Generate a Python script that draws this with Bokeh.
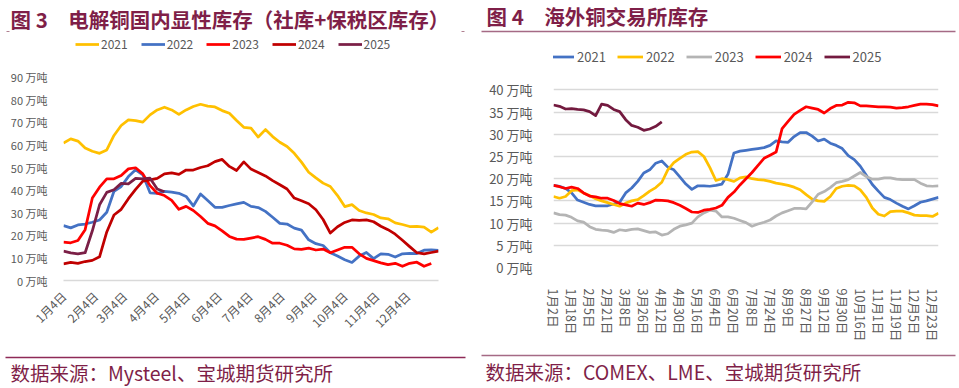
import math
from bokeh.plotting import figure
from bokeh.models import Range1d, FixedTicker, Legend, LegendItem, Label, ColumnDataSource
from bokeh.layouts import row, column
from bokeh.embed import file_html
from bokeh.resources import INLINE

FONT = "Noto Sans CJK SC"
MAROON = "#7F1F48"
GRAY_TXT = "#595959"

# ---------------- Left chart data (weekly, 电解铜国内显性库存, 万吨) ----------------
left_years = ["2021", "2022", "2023", "2024", "2025"]
left_colors = ["#FFC000", "#4472C4", "#FF0000", "#C00000", "#7B1F46"]
left_tick_days = [4, 35, 63, 94, 124, 155, 185, 216, 247, 277, 308, 338]
left_tick_labels = ["1月4日", "2月4日", "3月4日", "4月4日", "5月4日", "6月4日",
                    "7月4日", "8月4日", "9月4日", "10月4日", "11月4日", "12月4日"]
left_y_ticks = [0, 10, 20, 30, 40, 50, 60, 70, 80, 90]

left_2021 = [60.8, 62.7, 61.7, 58.7, 57.2, 56.3, 57.8, 64.2, 68.6, 71.1, 70.8, 70.1, 73.3,
             75.5, 76.7, 75.5, 73.5, 75.5, 77.0, 78.0, 77.2, 76.8, 75.2, 74.0, 70.8, 67.8,
             67.4, 63.5, 66.8, 63.7, 61.2, 59.3, 56.3, 52.4, 47.9, 45.4, 43.1, 41.6, 37.6,
             32.7, 33.6, 31.0, 29.9, 29.2, 27.7, 27.3, 25.5, 24.8, 23.9, 24.0, 23.6, 21.4, 23.4]
left_2022 = [24.3, 23.3, 24.6, 25.0, 25.8, 26.8, 30.2, 39.5, 41.6, 46.0, 49.0, 46.8, 38.8,
             38.6, 39.4, 39.1, 38.6, 37.2, 33.0, 38.3, 35.4, 32.4, 32.4, 33.2, 33.9, 34.6,
             32.8, 32.3, 30.6, 28.0, 25.3, 25.0, 23.2, 22.3, 18.0, 16.3, 15.5, 12.3, 10.8,
             9.2, 8.0, 10.8, 12.4, 9.7, 11.8, 11.6, 10.4, 11.8, 12.0, 11.9, 13.4, 13.6, 13.3]
left_2023 = [17.0, 16.7, 17.7, 22.5, 36.5, 41.3, 45.0, 45.0, 46.5, 49.4, 49.9, 47.2, 42.0,
             38.6, 37.6, 35.5, 31.5, 32.8, 31.0, 28.3, 25.3, 24.2, 22.0, 19.5, 18.3, 18.2,
             18.8, 19.4, 18.2, 16.5, 16.5, 15.6, 14.0, 13.8, 14.3, 13.5, 13.9, 12.3, 13.5,
             14.7, 14.7, 11.8, 9.8, 8.8, 7.8, 7.0, 7.6, 6.3, 7.6, 8.1, 6.3, 7.5]
left_2024 = [7.4, 8.0, 7.6, 8.4, 8.9, 10.5, 21.5, 29.0, 31.5, 36.2, 40.3, 44.0, 44.5, 45.2,
             47.2, 47.6, 47.0, 48.9, 48.9, 50.0, 50.8, 52.6, 53.6, 50.5, 48.7, 52.5, 49.3,
             47.8, 46.3, 44.2, 42.4, 40.5, 36.5, 35.3, 34.0, 31.3, 27.0, 21.0, 23.8, 25.7,
             26.8, 26.6, 26.8, 26.0, 24.0, 22.5, 20.5, 17.8, 15.0, 12.3, 11.8, 12.4, 13.0]
left_2025 = [13.0, 12.2, 11.8, 12.3, 22.0, 33.5, 39.0, 40.2, 43.0, 42.8, 45.2, 45.0, 45.3, 40.5, 39.3]
left_series = [left_2021, left_2022, left_2023, left_2024, left_2025]

# ---------------- Right chart data (海外铜交易所库存, 万吨, every 4 trading days) ----------------
right_years = ["2021", "2022", "2023", "2024", "2025"]
right_colors = ["#4472C4", "#FFC000", "#B4B4B4", "#FF0000", "#731A3F"]
right_tick_idx = [0, 12, 24, 36, 48, 60, 72, 84, 96, 108, 120, 132, 144, 156, 168, 180,
                  192, 204, 216, 228, 240, 252]
right_tick_labels = ["1月2日", "1月18日", "2月5日", "2月21日", "3月8日", "3月26日", "4月12日",
                     "4月30日", "5月16日", "6月4日", "6月20日", "7月8日", "7月24日", "8月9日",
                     "8月27日", "9月12日", "9月30日", "10月16日", "11月1日", "11月19日",
                     "12月5日", "12月23日"]
right_y_ticks = [0, 5, 10, 15, 20, 25, 30, 35, 40]

right_2021 = [18.5, 18.3, 17.8, 16.8, 15.2, 14.7, 14.2, 13.9, 13.9, 13.9, 14.3, 14.7, 16.8,
              17.9, 19.4, 21.3, 22.0, 23.5, 24.0, 22.6, 22.0, 20.4, 18.8, 17.6, 18.4, 18.4,
              18.3, 18.5, 18.8, 21.0, 25.8, 26.2, 26.4, 26.6, 26.8, 27.0, 27.5, 28.5, 28.3,
              28.2, 29.5, 30.4, 30.4, 29.6, 28.5, 28.9, 28.0, 27.5, 26.8, 25.2, 24.3, 22.8,
              20.8, 18.7, 17.2, 15.8, 15.3, 14.5, 13.8, 13.2, 13.9, 14.7, 15.0, 15.4, 15.8]
right_2022 = [16.0, 15.6, 16.0, 17.3, 17.5, 16.8, 16.2, 15.5, 15.0, 14.6, 14.2, 13.8, 14.5,
              15.0, 15.3, 16.2, 17.2, 18.0, 19.2, 22.0, 23.6, 24.6, 25.5, 26.0, 26.1, 25.0,
              22.5, 19.6, 20.0, 19.8, 19.4, 20.2, 20.4, 20.0, 19.8, 19.7, 19.4, 19.0, 18.8,
              18.5, 18.1, 17.5, 16.4, 15.4, 15.0, 14.9, 16.0, 17.8, 18.3, 18.5, 18.4, 17.5,
              15.8, 13.4, 12.0, 11.6, 12.6, 12.7, 12.7, 12.3, 11.8, 11.7, 11.7, 11.5, 12.2]
right_2023 = [12.3, 11.9, 11.8, 11.3, 10.5, 10.2, 9.2, 8.6, 8.4, 8.3, 7.9, 8.5, 8.3, 8.6,
              8.7, 8.3, 7.9, 8.0, 7.3, 7.6, 8.6, 9.3, 9.6, 10.0, 11.4, 12.3, 12.9, 12.7, 11.4,
              11.4, 11.1, 10.6, 10.1, 9.3, 9.8, 10.2, 10.7, 11.6, 12.3, 12.8, 13.3, 13.3, 13.2,
              14.8, 16.5, 17.1, 18.0, 19.1, 19.4, 19.8, 20.6, 21.4, 20.5, 19.9, 19.9, 20.2,
              20.2, 19.9, 19.8, 19.8, 19.8, 19.0, 18.4, 18.3, 18.4]
right_2024 = [18.5, 18.2, 17.8, 18.1, 17.8, 16.8, 16.1, 15.9, 15.6, 15.6, 15.1, 14.4, 14.1,
              13.8, 14.5, 14.2, 14.6, 15.2, 15.1, 15.0, 14.6, 14.0, 13.3, 12.5, 12.4, 12.9,
              13.1, 13.4, 14.0, 15.8, 17.0, 18.6, 20.0, 21.4, 23.0, 24.6, 25.3, 26.0, 31.3,
              32.9, 34.5, 35.4, 36.2, 35.9, 35.6, 34.8, 35.8, 36.5, 36.6, 37.2, 37.1, 36.4,
              36.4, 36.3, 36.2, 36.2, 36.1, 35.9, 36.0, 36.2, 36.5, 36.8, 36.8, 36.7, 36.4]
right_2025 = [36.6, 36.3, 35.7, 35.8, 35.6, 35.5, 35.1, 34.2, 36.8, 36.5, 35.6, 35.1, 33.3,
              32.0, 31.6, 30.9, 31.2, 31.8, 32.8]
right_series = [right_2021, right_2022, right_2023, right_2024, right_2025]

# ---------------- layout sizes ----------------
WL, WR = 470, 487
HH, HC, HF = 36, 310, 40


def blank(w, h):
    f = figure(width=w, height=h, x_range=Range1d(0, w), y_range=Range1d(h, 0),
               x_axis_type=None, y_axis_type=None, toolbar_location=None,
               output_backend="svg", min_border=0, min_border_left=0, min_border_right=0,
               min_border_top=0, min_border_bottom=0, outline_line_color=None,
               frame_align=False)
    f.grid.visible = False
    return f


def style_axes(p, ytick_font, xtick_font):
    p.xgrid.visible = False
    for ax in p.yaxis:
        ax.axis_line_color = None
        ax.major_tick_line_color = None
        ax.minor_tick_line_color = None
        ax.major_label_text_font = FONT
        ax.major_label_text_font_size = ytick_font
        ax.major_label_text_color = GRAY_TXT
    for ax in p.xaxis:
        ax.major_tick_line_color = None
        ax.minor_tick_line_color = None
        ax.major_label_text_font = FONT
        ax.major_label_text_font_size = xtick_font
        ax.major_label_text_color = GRAY_TXT


# ================= LEFT PANEL =================
hl = blank(WL, HH)
hl.add_layout(Label(x=10, y=18, text="图 3\u3000电解铜国内显性库存（社库+保税区库存）",
                    text_baseline="middle", text_align="left", text_font=FONT,
                    text_font_size="20.5px", text_font_style="bold", text_color=MAROON))
hl.segment(x0=[6, 461], y0=[31, 31], x1=[9, 464], y1=[31, 31], line_color="#B08090", line_width=1)

cl = figure(width=WL, height=HC, x_range=Range1d(4, 368), y_range=Range1d(0, 108.0),
            toolbar_location=None, output_backend="svg", outline_line_color=None,
            min_border_left=63, min_border_right=32, min_border_top=0, min_border_bottom=66,
            frame_align=False)
style_axes(cl, "11px", "12px")
cl.ygrid.visible = False
cl.yaxis.ticker = FixedTicker(ticks=left_y_ticks)
cl.yaxis.major_label_overrides = {t: f"{t} 万吨" for t in left_y_ticks}
cl.yaxis.major_label_standoff = 10
cl.xaxis.ticker = FixedTicker(ticks=left_tick_days)
cl.xaxis.major_label_overrides = {d: l for d, l in zip(left_tick_days, left_tick_labels)}
cl.xaxis.major_label_orientation = math.pi / 4
cl.xaxis.major_label_standoff = 7
cl.xaxis.axis_line_color = "#D9D9D9"
cl.xaxis.axis_line_width = 1.5

left_items = []
for yr, col, vals in zip(left_years, left_colors, left_series):
    days = [4 + 7 * i for i in range(len(vals))]
    src = ColumnDataSource(dict(x=days, y=vals))
    r = cl.line("x", "y", source=src, line_color=col, line_width=2.75, line_join="round")
    left_items.append(LegendItem(label=yr, renderers=[r]))
leg_l = Legend(items=left_items, location=(12, 228), orientation="horizontal",
               glyph_width=24, glyph_height=14, label_height=14, label_standoff=2,
               spacing=13, padding=0, margin=0, border_line_color=None,
               background_fill_alpha=0, label_text_font=FONT, label_text_font_size="12px",
               label_text_color=GRAY_TXT)
cl.add_layout(leg_l)

fl = blank(WL, HF)
fl.segment(x0=[5], y0=[11], x1=[465], y1=[11], line_color="#8E2A57", line_width=1.5)
fl.add_layout(Label(x=10, y=26, text="数据来源：Mysteel、宝城期货研究所",
                    text_baseline="middle", text_align="left", text_font=FONT,
                    text_font_size="19.5px", text_color=MAROON))

# ================= RIGHT PANEL =================
hr = blank(WR, HH)
hr.add_layout(Label(x=16, y=15, text="图 4\u3000海外铜交易所库存",
                    text_baseline="middle", text_align="left", text_font=FONT,
                    text_font_size="20.5px", text_font_style="bold", text_color=MAROON))
hr.segment(x0=[11], y0=[31], x1=[485], y1=[31], line_color="#A56A85", line_width=1.5)

cr = figure(width=WR, height=HC, x_range=Range1d(0, 256), y_range=Range1d(0, 52.03),
            toolbar_location=None, output_backend="svg", outline_line_color=None,
            min_border_left=83, min_border_right=19, min_border_top=0, min_border_bottom=79,
            frame_align=False)
style_axes(cr, "13px", "12.5px")
cr.yaxis.ticker = FixedTicker(ticks=right_y_ticks)
cr.yaxis.major_label_overrides = {t: f"{t} 万吨" for t in right_y_ticks}
cr.yaxis.major_label_standoff = 15
cr.ygrid.grid_line_color = "#D9D9D9"
cr.ygrid.grid_line_width = 1.3
cr.xaxis.ticker = FixedTicker(ticks=right_tick_idx)
cr.xaxis.major_label_overrides = {d: l for d, l in zip(right_tick_idx, right_tick_labels)}
cr.xaxis.major_label_orientation = "vertical"
cr.xaxis.major_label_standoff = 15
cr.xaxis.axis_line_color = None

right_items = []
for yr, col, vals in zip(right_years, right_colors, right_series):
    idx = [4 * i for i in range(len(vals))]
    src = ColumnDataSource(dict(x=idx, y=vals))
    r = cr.line("x", "y", source=src, line_color=col, line_width=2.75, line_join="round")
    right_items.append(LegendItem(label=yr, renderers=[r]))
leg_r = Legend(items=right_items, location=(-5, 201), orientation="horizontal",
               glyph_width=26, glyph_height=15, label_height=15, label_standoff=3,
               spacing=11, padding=0, margin=0, border_line_color=None,
               background_fill_alpha=0, label_text_font=FONT, label_text_font_size="13px",
               label_text_color=GRAY_TXT)
cr.add_layout(leg_r)

fr = blank(WR, HF)
fr.segment(x0=[11], y0=[9], x1=[485], y1=[9], line_color="#A56A85", line_width=1.5)
fr.add_layout(Label(x=15, y=24.5, text="数据来源：COMEX、LME、宝城期货研究所",
                    text_baseline="middle", text_align="left", text_font=FONT,
                    text_font_size="19.5px", text_color=MAROON))

layout = row(column(hl, cl, fl), column(hr, cr, fr))
open("out.html", "w").write(file_html(layout, INLINE))
